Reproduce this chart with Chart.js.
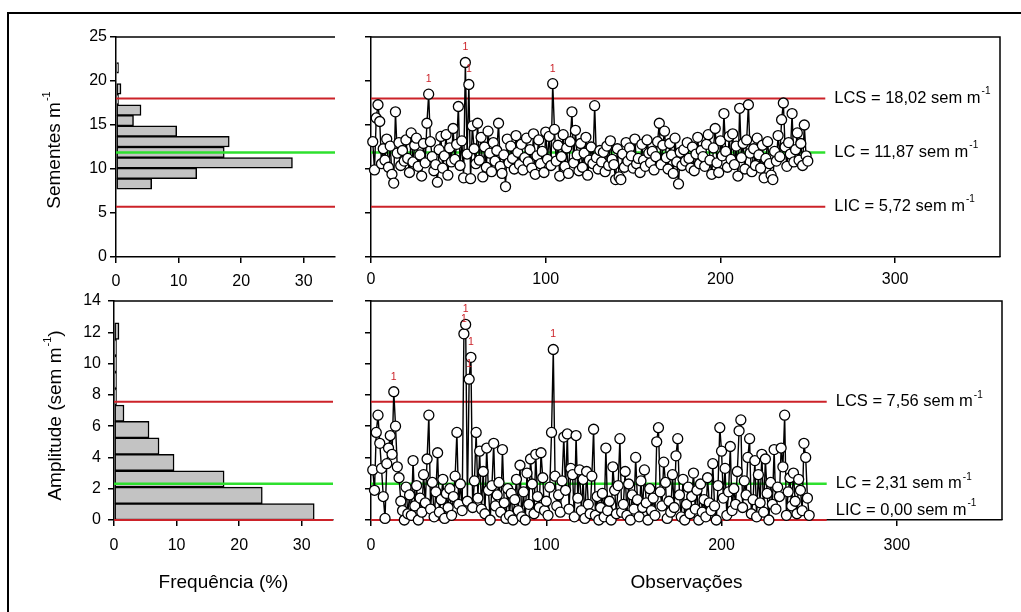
<!DOCTYPE html>
<html>
<head>
<meta charset="utf-8">
<script src="https://cdn.jsdelivr.net/npm/chart.js@4.4.1/dist/chart.umd.min.js"></script>
<style>
  body { margin: 0; background: #fff; }
  #wrap { position: relative; width: 1021px; height: 612px; overflow: hidden; background: #fff; }
  #frame { position: absolute; left: 7px; top: 12px; width: 1100px; height: 700px;
           border-left: 2px solid #000; border-top: 2px solid #000; }
  canvas { position: absolute; }
</style>
</head>
<body>
<div id="wrap">
  <div id="frame"></div>
  <canvas id="histSeeds" width="350" height="295" style="left:0;top:0;width:350px;height:295px"></canvas>
  <canvas id="ctrlSeeds" width="671" height="295" style="left:350px;top:0;width:671px;height:295px"></canvas>
  <canvas id="histAmp" width="350" height="332" style="left:0;top:280px;width:350px;height:332px"></canvas>
  <canvas id="ctrlAmp" width="671" height="332" style="left:350px;top:280px;width:671px;height:332px"></canvas>
</div>
<script>
// ---- data ----
const seeds = [
  13.1, 9.9, 15.8, 17.3, 15.4, 10.6, 12.3, 11.0, 13.4, 10.2,
  12.6, 9.4, 8.4, 16.5, 11.8, 13.0, 10.4, 12.1, 10.9, 13.3,
  11.2, 9.6, 14.1, 10.8, 12.7, 13.5, 10.3, 11.6, 9.2, 12.9,
  10.7, 15.2, 18.5, 13.1, 11.4, 9.8, 10.5, 8.5, 12.2, 13.7,
  10.1, 11.5, 13.9, 9.3, 12.4, 10.8, 14.6, 11.1, 12.8, 17.1,
  10.4, 13.2, 9.0, 22.1, 11.7, 19.6, 8.9, 14.9, 12.3, 10.6,
  15.2, 11.0, 13.6, 9.1, 12.5, 10.2, 14.3, 11.8, 9.7, 13.0,
  10.9, 12.1, 15.2, 10.3, 9.5, 11.6, 8.0, 13.4, 10.7, 12.6,
  11.2, 10.0, 13.8, 11.9, 10.5, 12.8, 9.9, 11.3, 13.5, 10.8,
  12.2, 10.1, 14.0, 9.4, 11.5, 13.3, 10.6, 12.0, 9.6, 14.2,
  11.1, 13.7, 10.4, 19.7, 14.5, 10.9, 12.7, 9.2, 11.4, 13.9,
  10.3, 12.4, 9.5, 13.1, 16.5, 10.7, 14.4, 11.6, 9.8, 12.9,
  10.2, 11.8, 13.6, 9.3, 11.0, 12.5, 10.6, 17.2, 11.3, 10.0,
  12.1, 10.8, 11.9, 9.7, 12.6, 10.4, 13.2, 11.1, 10.5, 8.8,
  12.3, 9.1, 8.8, 11.7, 10.2, 13.0, 10.9, 12.4, 11.5, 10.1,
  13.4, 10.6, 11.2, 9.6, 12.8, 11.0, 10.3, 13.3, 11.8, 10.7,
  12.0, 9.9, 11.4, 13.1, 15.2, 10.5, 12.7, 14.3, 11.3, 10.0,
  12.9, 11.6, 9.5, 13.5, 10.8, 8.3, 11.9, 10.4, 12.2, 10.9,
  13.0, 11.2, 10.1, 12.5, 9.8, 11.7, 13.6, 10.6, 12.1, 11.4,
  10.3, 12.8, 13.9, 11.0, 9.4, 12.4, 14.6, 10.7, 9.6, 13.2,
  11.5, 16.3, 12.0, 10.2, 13.7, 11.1, 14.0, 10.5, 12.6, 9.2,
  16.9, 11.3, 12.9, 10.0, 13.3, 17.3, 11.8, 9.7, 12.3, 10.4,
  13.5, 11.6, 10.1, 12.7, 9.0, 11.2, 13.1, 10.6, 9.3, 8.8,
  12.0, 10.9, 13.8, 11.4, 15.6, 17.5, 12.5, 10.3, 13.0, 11.7,
  16.3, 10.8, 12.2, 14.1, 11.0, 12.9, 10.4, 15.0, 11.5, 10.9
];
const amplitude = [
  3.2, 1.9, 5.6, 6.7, 4.9, 3.3, 1.5, 0.1, 3.6, 4.6,
  5.4, 4.2, 8.2, 6.0, 3.4, 2.7, 1.2, 0.6, 0.0, 2.1,
  0.4, 1.6, 0.3, 3.8, 0.9, 2.2, 0.0, 1.4, 0.5, 2.9,
  1.1, 3.9, 6.7, 0.7, 2.4, 0.2, 1.8, 4.3, 0.5, 1.3,
  2.6, 0.1, 1.7, 0.8, 2.0, 0.3, 1.5, 2.8, 5.6, 1.0,
  2.3, 0.6, 11.9, 12.5, 1.2, 9.0, 10.4, 0.8, 2.5, 5.6,
  1.4, 4.4, 0.7, 3.1, 0.4, 4.6, 1.9, 0.0, 2.2, 4.9,
  0.9, 1.6, 2.4, 0.5, 4.5, 1.1, 0.1, 2.0, 0.3, 1.7,
  0.0, 1.3, 2.6, 0.6, 3.5, 0.2, 1.8, 0.0, 3.0, 1.0,
  3.9, 2.3, 0.4, 4.2, 1.5, 0.8, 4.3, 2.7, 0.6, 1.2,
  0.3, 2.1, 5.6, 10.9, 2.8, 0.9, 1.6, 0.5, 2.5, 5.3,
  1.9, 5.5, 0.7, 3.3, 2.9, 0.2, 5.4, 1.4, 3.2, 0.6,
  2.6, 0.1, 3.1, 1.0, 0.4, 2.8, 5.8, 0.3, 1.5, 0.0,
  0.8, 1.7, 0.2, 4.6, 0.6, 1.2, 0.0, 3.4, 1.9, 0.4,
  2.2, 5.2, 0.5, 1.0, 3.1, 0.3, 2.3, 0.0, 1.6, 0.7,
  4.0, 1.3, 0.2, 2.5, 0.8, 3.2, 1.1, 0.0, 2.0, 0.6,
  1.4, 0.3, 5.0, 5.9, 1.8, 0.9, 3.7, 2.4, 0.1, 1.2,
  0.5, 2.9, 0.8, 4.1, 5.2, 1.6, 0.2, 2.6, 0.0, 1.0,
  2.1, 0.4, 1.5, 3.0, 0.7, 1.9, 0.0, 2.3, 0.5, 1.3,
  0.2, 2.7, 1.1, 0.6, 3.6, 0.9, 0.0, 2.2, 5.9, 4.4,
  1.4, 3.3, 0.3, 1.8, 4.7, 0.6, 2.0, 1.0, 3.1, 5.7,
  6.4, 0.8, 2.5, 1.6, 4.0, 5.2, 0.4, 1.3, 3.8, 0.2,
  2.9, 1.1, 4.2, 0.5, 3.9, 1.7, 0.0, 2.4, 1.0, 4.5,
  0.7, 2.1, 1.5, 4.6, 3.4, 6.7, 0.3, 1.8, 2.7, 0.9,
  3.0, 1.2, 0.4, 2.6, 1.9, 0.6, 4.9, 4.0, 1.4, 0.3
];
const observations = seeds.map((_, i) => i + 1);

// histogram bins (centres) and frequencies (%)
const seedBins = [8.3, 9.5, 10.7, 11.9, 13.1, 14.3, 15.5, 16.7, 17.9, 19.1, 21.5];
const seedFreq = [5.7, 12.9, 28.2, 17.3, 18.1, 9.7, 2.8, 4.0, 0.4, 0.8, 0.4];
const ampBins = [0.525, 1.575, 2.625, 3.675, 4.725, 5.775, 6.825, 7.875, 8.925, 9.975, 11.025, 12.075];
const ampFreq = [32.0, 23.7, 17.6, 9.6, 7.2, 5.6, 1.6, 0.4, 0.4, 0.4, 0.4, 0.8];

// control limits: LCS, LC, LIC
const seedLimits = [18.02, 11.87, 5.72];
const seedLimitText = ['LCS = 18,02 sem m', 'LC = 11,87 sem m', 'LIC = 5,72 sem m'];
const ampLimits = [7.56, 2.31, 0.00];
const ampLimitText = ['LCS = 7,56 sem m', 'LC = 2,31 sem m', 'LIC = 0,00 sem m'];

// ---- drawing ----
const FONT = '"Liberation Sans", Arial, Helvetica, sans-serif';
const RED = '#cc2229';
const GREEN = '#2ee02e';
const limitColors = [RED, GREEN, RED];
const limitWidths = [2, 2.5, 2];

Chart.defaults.font.family = FONT;
Chart.defaults.color = '#000';
Chart.defaults.animation = false;

// text made of parts, some of them superscript
function drawParts(ctx, parts, x, y, size, align) {
  const supSize = Math.round(size * 0.6);
  let total = 0;
  parts.forEach(p => {
    ctx.font = (p.sup ? supSize : size) + 'px ' + FONT;
    p.w = ctx.measureText(p.t).width;
    total += p.w + (p.sup ? 1 : 0);
  });
  let cx = align === 'center' ? x - total / 2 : x;
  ctx.textAlign = 'left';
  ctx.textBaseline = 'middle';
  ctx.fillStyle = '#000';
  parts.forEach(p => {
    ctx.font = (p.sup ? supSize : size) + 'px ' + FONT;
    ctx.fillText(p.t, p.sup ? cx + 1 : cx, p.sup ? y - size * 0.42 : y);
    cx += p.w + (p.sup ? 1 : 0);
  });
}

function axis(min, max, step, o) {
  return {
    type: 'linear', min: min, max: max, offset: false,
    grid: { display: true, drawOnChartArea: false, drawTicks: true, tickLength: 6,
            color: '#000', lineWidth: 1.5, offset: false },
    border: { display: true, color: '#000', width: 1.5 },
    ticks: { stepSize: step, includeBounds: false, display: o.labels !== false,
             padding: o.pad || 3, font: { size: 16 }, color: '#000' },
    afterFit: s => {
      if (o.w !== undefined) s.width = o.w;
      if (o.h !== undefined) s.height = o.h;
    }
  };
}

function frameLines(chart, withRight) {
  const { ctx, chartArea: a } = chart;
  ctx.save();
  ctx.strokeStyle = '#000';
  ctx.lineWidth = 1.5;
  ctx.beginPath();
  ctx.moveTo(a.left, a.top);
  ctx.lineTo(a.right, a.top);
  if (withRight) ctx.lineTo(a.right, a.bottom);
  ctx.stroke();
  ctx.restore();
}

function histChart(id, bins, freq, yMax, yStep, limits, pad, o) {
  const decor = {
    id: 'histDecor',
    afterDatasetsDraw(chart) {
      const { ctx, chartArea: a, scales } = chart;
      ctx.save();
      limits.forEach((v, i) => {
        const y = scales.y.getPixelForValue(v);
        ctx.strokeStyle = limitColors[i];
        ctx.lineWidth = limitWidths[i];
        ctx.beginPath();
        ctx.moveTo(a.left, y);
        ctx.lineTo(a.right, y);
        ctx.stroke();
      });
      ctx.restore();
      frameLines(chart, false);
      ctx.save();
      ctx.translate(o.titleX, (a.top + a.bottom) / 2 + (o.titleDy || 0));
      ctx.rotate(-Math.PI / 2);
      drawParts(ctx, o.yTitle, 0, 0, 19, 'center');
      ctx.restore();
      if (o.xTitle) {
        ctx.save();
        drawParts(ctx, [{ t: o.xTitle }], (a.left + a.right) / 2, a.bottom + 63, 19, 'center');
        ctx.restore();
      }
    }
  };
  return new Chart(document.getElementById(id), {
    type: 'bar',
    data: {
      datasets: [{
        data: bins.map((b, i) => ({ x: freq[i], y: b })),
        backgroundColor: '#c3c3c3',
        borderColor: '#000',
        borderWidth: 1.5,
        borderSkipped: false,
        barPercentage: 1,
        categoryPercentage: 1
      }]
    },
    options: {
      indexAxis: 'y',
      responsive: false,
      events: [],
      layout: { padding: pad },
      plugins: { legend: { display: false }, tooltip: { enabled: false } },
      scales: {
        x: axis(0, 35, 10, { h: o.xh, pad: o.xpad }),
        y: axis(0, yMax, yStep, { w: o.yw, pad: o.ypad })
      }
    },
    plugins: [decor]
  });
}

function controlChart(id, values, yMax, yStep, limits, texts, pad, o) {
  const decor = {
    id: 'ctrlDecor',
    beforeDatasetsDraw(chart) {
      const { ctx, scales } = chart;
      const x0 = scales.x.getPixelForValue(0);
      const x1 = scales.x.getPixelForValue(260);
      ctx.save();
      limits.forEach((v, i) => {
        const y = scales.y.getPixelForValue(v);
        ctx.strokeStyle = limitColors[i];
        ctx.lineWidth = limitWidths[i];
        ctx.beginPath();
        ctx.moveTo(x0, y);
        ctx.lineTo(x1, y);
        ctx.stroke();
      });
      ctx.restore();
    },
    afterDraw(chart) {
      const { ctx, chartArea: a, scales } = chart;
      frameLines(chart, true);
      const lx = scales.x.getPixelForValue(260) + 9;
      limits.forEach((v, i) => {
        const y = scales.y.getPixelForValue(v) + (o.labelDy ? o.labelDy[i] : 0);
        ctx.save();
        drawParts(ctx, [{ t: texts[i] }, { t: '-1', sup: true }], lx, y, 16.5, 'left');
        ctx.restore();
      });
      // mark points beyond the limits
      ctx.save();
      ctx.fillStyle = RED;
      ctx.font = '10.5px ' + FONT;
      ctx.textAlign = 'center';
      ctx.textBaseline = 'middle';
      values.forEach((v, i) => {
        if (v > limits[0] || v < limits[2]) {
          const px = scales.x.getPixelForValue(observations[i]);
          const py = scales.y.getPixelForValue(v);
          ctx.fillText('1', px, py - 15);
        }
      });
      ctx.restore();
      if (o.xTitle) {
        ctx.save();
        drawParts(ctx, [{ t: o.xTitle }], (a.left + a.right) / 2, a.bottom + 63, 19, 'center');
        ctx.restore();
      }
    }
  };
  return new Chart(document.getElementById(id), {
    type: 'line',
    data: {
      datasets: [{
        data: observations.map((n, i) => ({ x: n, y: values[i] })),
        borderColor: '#000',
        borderWidth: 1.4,
        pointRadius: 5,
        pointBorderWidth: 1.3,
        pointBackgroundColor: '#fff',
        pointBorderColor: '#000',
        tension: 0,
        clip: false
      }]
    },
    options: {
      responsive: false,
      events: [],
      layout: { padding: pad },
      plugins: { legend: { display: false }, tooltip: { enabled: false } },
      scales: {
        x: axis(0, 360, 100, { h: o.xh, pad: o.xpad }),
        y: axis(0, yMax, yStep, { w: 21, labels: false })
      }
    },
    plugins: [decor]
  });
}

histChart('histSeeds', seedBins, seedFreq, 25, 5, seedLimits,
  { top: 37, right: 15, left: 0, bottom: 0 },
  { yw: 116, xh: 38, xpad: 9, ypad: 3, titleX: 55, titleDy: 3,
    yTitle: [{ t: 'Sementes m' }, { t: '-1', sup: true }] });

controlChart('ctrlSeeds', seeds, 25, 5, seedLimits, seedLimitText,
  { top: 37, right: 21, left: 0, bottom: 0 },
  { xh: 38, xpad: 7 });

histChart('histAmp', ampBins, ampFreq, 14, 2, ampLimits,
  { top: 21, right: 17, left: 0, bottom: 0 },
  { yw: 114, xh: 92, xpad: 10, ypad: 7, titleX: 56, titleDy: 5,
    yTitle: [{ t: 'Amplitude (sem m' }, { t: '-1', sup: true }, { t: ')' }],
    xTitle: 'Frequência (%)' });

controlChart('ctrlAmp', amplitude, 14, 2, ampLimits, ampLimitText,
  { top: 21, right: 19, left: 0, bottom: 0 },
  { xh: 92, xpad: 10, labelDy: [0, 0, -10], xTitle: 'Observações' });
</script>
</body>
</html>
